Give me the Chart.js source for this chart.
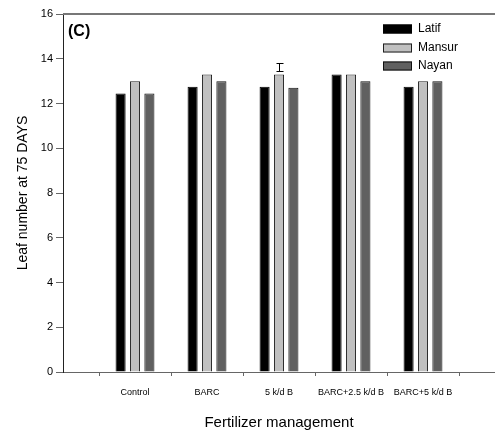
<!DOCTYPE html>
<html lang="en">
<head>
    <meta charset="UTF-8">
    <title>Leaf number at 75 days</title>
    <style>
        body { margin: 0; background: #fff; }
    </style>
</head>
<body>
    <canvas id="leafChart" width="495" height="434"></canvas>
</body>
<script src="https://cdn.jsdelivr.net/npm/chart.js"></script>
<script>
// data
const categories = ["Control", "BARC", "5 k/d B", "BARC+2.5 k/d B", "BARC+5 k/d B"];
const latif  = [12.45, 12.75, 12.75, 13.3, 12.75];
const mansur = [13.0, 13.3, 13.3, 13.3, 13.0];
const nayan  = [12.45, 13.0, 12.7, 13.0, 13.0];
const yTicks = [0, 2, 4, 6, 8, 10, 12, 14, 16];
// LSD bar drawn above the "5 k/d B" group
const lsdCategory = "5 k/d B";
const lsdLow = 13.45;
const lsdHigh = 13.8;

const FONT = '"Liberation Sans", Arial, sans-serif';

// empty slots at both ends so the groups sit at 1..5 on a 0..6 axis
const labels = [""].concat(categories, [""]);
function pad(arr){ return [null].concat(arr, [null]); }

const topLine = {
    id: 'topLine',
    afterDraw(chart){
        const {ctx, chartArea} = chart;
        ctx.save();
        ctx.strokeStyle = '#777';
        ctx.lineWidth = 2;
        ctx.beginPath();
        ctx.moveTo(chartArea.left, chartArea.top);
        ctx.lineTo(chart.width, chartArea.top);
        ctx.stroke();
        ctx.restore();
    }
};

const panelLabel = {
    id: 'panelLabel',
    afterDraw(chart){
        const ctx = chart.ctx;
        ctx.save();
        ctx.fillStyle = '#000';
        ctx.font = 'bold 16px ' + FONT;
        ctx.textBaseline = 'middle';
        ctx.fillText('(C)', 68, 32);
        ctx.restore();
    }
};

const lsdBar = {
    id: 'lsdBar',
    afterDatasetsDraw(chart){
        const {ctx, scales} = chart;
        const x = Math.round(scales.x.getPixelForValue(labels.indexOf(lsdCategory))) + 0.5;
        const y1 = Math.round(scales.y.getPixelForValue(lsdLow)) + 0.5;
        const y2 = Math.round(scales.y.getPixelForValue(lsdHigh)) + 0.5;
        ctx.save();
        ctx.strokeStyle = '#000';
        ctx.lineWidth = 1;
        ctx.beginPath();
        ctx.moveTo(x, y1); ctx.lineTo(x, y2);
        ctx.moveTo(x - 3, y1); ctx.lineTo(x + 4, y1);
        ctx.moveTo(x - 3, y2); ctx.lineTo(x + 4, y2);
        ctx.stroke();
        ctx.restore();
    }
};

const boxLegend = {
    id: 'boxLegend',
    afterDraw(chart){
        const ctx = chart.ctx;
        ctx.save();
        ctx.font = '12px ' + FONT;
        ctx.textBaseline = 'middle';
        chart.data.datasets.forEach((ds, i) => {
            const cy = Math.round(29 + i * 18.5);
            ctx.fillStyle = ds.backgroundColor;
            ctx.fillRect(383, cy - 4.5, 29, 9);
            ctx.strokeStyle = ds.borderColor;
            ctx.lineWidth = 1;
            ctx.strokeRect(383.5, cy - 4, 28, 8);
            ctx.fillStyle = '#000';
            ctx.fillText(ds.label, 418, cy);
        });
        ctx.restore();
    }
};

new Chart(document.getElementById('leafChart').getContext('2d'), {
    type: 'bar',
    data: {
        labels: labels,
        datasets: [
            {label: 'Latif',  data: pad(latif),  backgroundColor: '#000000', borderColor: '#000000', borderWidth: 1},
            {label: 'Mansur', data: pad(mansur), backgroundColor: '#c0c0c0', borderColor: '#202020', borderWidth: 1},
            {label: 'Nayan',  data: pad(nayan),  backgroundColor: '#606060', borderColor: '#101010', borderWidth: 1}
        ]
    },
    options: {
        responsive: false,
        animation: false,
        events: [],
        categoryPercentage: 0.6,
        barPercentage: 0.7,
        layout: {padding: {top: 14, left: 0, right: 0, bottom: 0}},
        plugins: {legend: {display: false}, tooltip: {enabled: false}},
        scales: {
            x: {
                offset: false,
                afterFit: s => { s.height = 62; s.paddingLeft = 0; s.paddingRight = 0; },
                grid: {display: true, drawOnChartArea: false, drawTicks: true, tickLength: 4, color: '#666'},
                border: {display: true, color: '#666', width: 1},
                ticks: {autoSkip: false, maxRotation: 0, padding: 11, color: '#000', font: {family: FONT, size: 9}},
                title: {display: true, text: 'Fertilizer management', color: '#000', padding: {top: 0, bottom: 2}, font: {family: FONT, size: 15}}
            },
            y: {
                min: 0,
                max: 16,
                afterFit: s => { s.width = 63; },
                afterBuildTicks: s => { s.ticks = yTicks.map(v => ({value: v})); },
                grid: {display: true, drawOnChartArea: false, drawTicks: true, tickLength: 7, color: '#666'},
                border: {display: true, color: '#222', width: 1},
                ticks: {padding: 3, color: '#000', font: {family: FONT, size: 11}},
                title: {display: true, text: 'Leaf number at 75 DAYS', color: '#000', padding: {top: 15, bottom: 0}, font: {family: FONT, size: 14}}
            }
        }
    },
    plugins: [topLine, panelLabel, lsdBar, boxLegend]
});
</script>
</html>
